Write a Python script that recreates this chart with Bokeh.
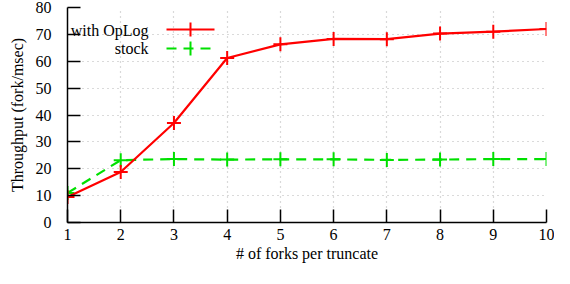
from bokeh.plotting import figure
from bokeh.models import Range1d, FixedTicker, Label, Arrow
from bokeh.embed import file_html
from bokeh.resources import INLINE

forks = [1, 2, 3, 4, 5, 6, 7, 8, 9, 10]
oplog = [9.5, 18.8, 37.0, 61.2, 66.3, 68.3, 68.2, 70.3, 71.0, 72.0]
stock = [11.0, 23.2, 23.6, 23.4, 23.5, 23.5, 23.3, 23.4, 23.6, 23.6]
x_ticks = [1, 2, 3, 4, 5, 6, 7, 8, 9, 10]
y_ticks = [0, 10, 20, 30, 40, 50, 60, 70, 80]

FONT = "Liberation Serif"
W, H = 554, 268
BT, BB, BL, BR = 7, 46, 67, 8
FH = H - BT - BB  # frame height

p = figure(width=W, height=H, output_backend="svg", toolbar_location=None,
           x_range=Range1d(1, 10), y_range=Range1d(0, 80),
           min_border_left=BL, min_border_right=BR, min_border_top=BT, min_border_bottom=BB)
p.outline_line_color = None
p.background_fill_color = "white"
p.border_fill_color = "white"

for ax in (p.xaxis[0], p.yaxis[0]):
    ax.major_tick_in = 13
    ax.major_tick_out = 0
    ax.minor_tick_in = 0
    ax.minor_tick_out = 0
    ax.axis_line_color = "black"
    ax.axis_line_width = 1.5
    ax.major_tick_line_width = 1.5
    ax.major_label_text_font = FONT
    ax.major_label_text_font_size = "16px"
    ax.major_label_text_color = "black"
    ax.axis_label_text_font = FONT
    ax.axis_label_text_font_size = "16px"
    ax.axis_label_text_font_style = "normal"
    ax.axis_label_text_color = "black"

p.xaxis.ticker = FixedTicker(ticks=x_ticks)
p.yaxis.ticker = FixedTicker(ticks=y_ticks)
p.xaxis.major_label_standoff = 6
p.yaxis.major_label_standoff = 16
p.xaxis.axis_label = "# of forks per truncate"
p.yaxis.axis_label = "Throughput (fork/msec)"
p.xaxis.axis_label_standoff = 2
p.yaxis.axis_label_standoff = 7

for g in (p.xgrid[0], p.ygrid[0]):
    g.grid_line_color = "#b4b4b4"
    g.grid_line_dash = "1 4"
    g.grid_line_width = 1.2
p.xgrid.ticker = FixedTicker(ticks=x_ticks)
p.ygrid.ticker = FixedTicker(ticks=y_ticks)

RED = "#ff0000"
GREEN = "#00e000"

p.line(forks, stock, line_color=GREEN, line_width=2.2, line_dash="10 7")
p.scatter(forks, stock, marker="cross", size=14, line_color=GREEN, line_width=2)
p.line(forks, oplog, line_color=RED, line_width=2.2)
p.scatter(forks, oplog, marker="cross", size=14, line_color=RED, line_width=2)

# legend (top-left, label right-aligned, sample on the right); screen units are frame-relative
legend_items = [("with OpLog", RED, None, 23, 22), ("stock", GREEN, "10 7", 41, 41)]
for text, col, dash, t_off, l_off in legend_items:
    p.add_layout(Label(x=81, y=FH - t_off, x_units="screen", y_units="screen", text=text,
                       text_font=FONT, text_font_size="16px", text_align="right",
                       text_baseline="middle", text_color="black"))
    kw = dict(line_color=col, line_width=2.2)
    if dash:
        kw["line_dash"] = dash
    ly = FH - l_off
    p.add_layout(Arrow(x_start=99, y_start=ly, x_end=147, y_end=ly,
                       start_units="screen", end_units="screen", end=None, **kw))
    p.add_layout(Arrow(x_start=123, y_start=ly - 7, x_end=123, y_end=ly + 7,
                       start_units="screen", end_units="screen", end=None,
                       line_color=col, line_width=2))

open("out.html", "w").write(file_html(p, INLINE))
